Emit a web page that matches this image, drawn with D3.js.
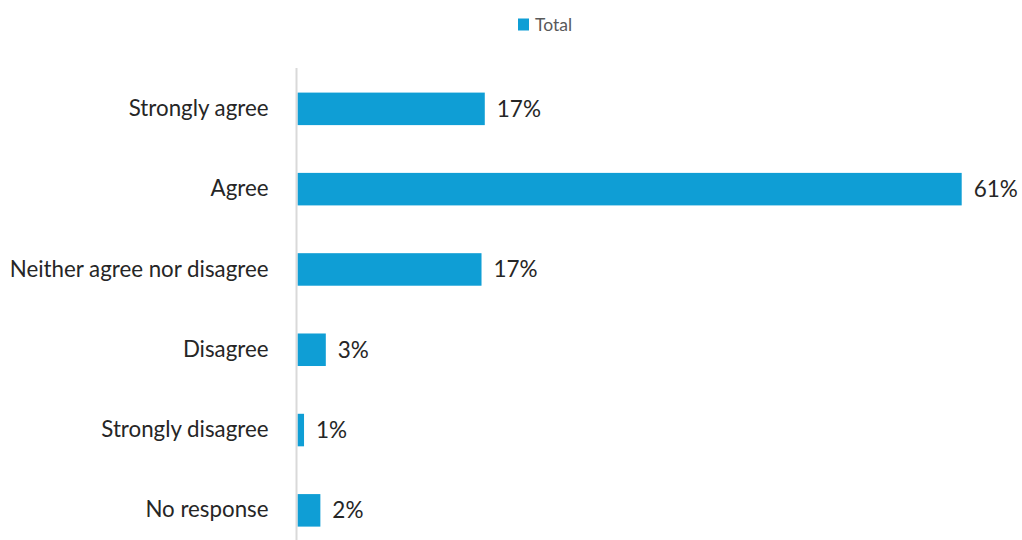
<!DOCTYPE html>
<html>
<head>
<meta charset="utf-8">
<script src="https://cdn.jsdelivr.net/npm/d3@7"></script>
<style>
  html, body { margin: 0; padding: 0; background: #fff; }
  svg { display: block; font-family: Lato, "Open Sans", sans-serif; }
</style>
</head>
<body>
<div id="chart"></div>
<script>
const categories = ['Strongly agree', 'Agree', 'Neither agree nor disagree', 'Disagree', 'Strongly disagree', 'No response'];
const totalValues = [17.2, 61.0, 16.9, 2.6, 0.6, 2.1];
const seriesName = 'Total';

const width = 1022, height = 540;
const x0 = 297.5;
const svg = d3.select('#chart').append('svg').attr('width', width).attr('height', height);

const x = d3.scaleLinear().domain([0, 61]).range([x0, 961.7]);
const y = d3.scaleBand().domain(categories).range([68.7, 550.5])
  .paddingInner(0.595).paddingOuter(0.2975);

// legend
const leg = svg.append('g').attr('transform', 'translate(518,18.5)');
leg.append('rect').attr('width', 11).attr('height', 12).attr('fill', '#0f9ed5');
leg.append('text').attr('x', 17).attr('y', 6).attr('dy', '0.35em')
  .attr('fill', '#595959').style('font-size', '17.5px').text(seriesName);

// bars
svg.append('g').selectAll('rect')
  .data(totalValues)
  .join('rect')
  .attr('x', x(0))
  .attr('y', (d, i) => y(categories[i]))
  .attr('width', d => x(d) - x(0))
  .attr('height', y.bandwidth())
  .attr('fill', '#0f9ed5');

// value labels
svg.append('g').selectAll('text')
  .data(totalValues)
  .join('text')
  .attr('x', d => x(d) + 12)
  .attr('y', (d, i) => y(categories[i]) + y.bandwidth() / 2)
  .attr('dy', '0.35em')
  .attr('fill', '#262626')
  .style('font-size', '22.5px')
  .text(d => d3.format('.0f')(d) + '%');

// category axis
const axis = svg.append('g').attr('transform', `translate(${x0 - 1},0)`)
  .call(d3.axisLeft(y).tickSize(0).tickPadding(28));
axis.select('.domain').attr('stroke', '#d9d9d9').attr('stroke-width', 2)
  .attr('d', `M0,68V${height}`);
axis.selectAll('text').attr('fill', '#262626').style('font-size', '22.3px')
  .style('font-family', 'Lato, "Open Sans", sans-serif');
</script>
</body>
</html>
